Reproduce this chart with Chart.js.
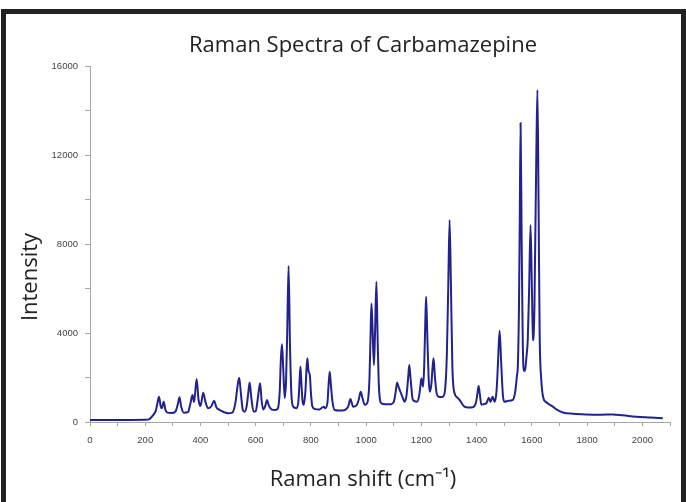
<!DOCTYPE html>
<html>
<head>
<meta charset="utf-8">
<script src="https://cdn.jsdelivr.net/npm/chart.js@4.4.1/dist/chart.umd.min.js"></script>
<style>
  html, body { margin: 0; padding: 0; background: #fff; }
  #wrap { position: relative; width: 686px; height: 502px; overflow: hidden; }
  #frame {
    position: absolute; left: 1px; top: 9px; right: 0; bottom: -20px;
    border: 5px solid #222; border-bottom: none;
  }
  #chart { position: absolute; left: 0; top: 0; }
  .ttl {
    position: absolute; left: 263px; width: 200px; text-align: center;
    white-space: nowrap; font-family: 'Open Sans', sans-serif; font-size: 22px;
    line-height: 26px; color: #222;
  }
  .ttl span { display: inline-block; margin: 0 -200px; }
  #ytitle { left: -72px; top: 264px; transform: rotate(-90deg); }
</style>
</head>
<body>
<div id="wrap">
  <div id="frame"></div>
  <canvas id="chart" width="686" height="502"></canvas>
  <div class="ttl" style="top:30px"><span>Raman Spectra of Carbamazepine</span></div>
  <div class="ttl" style="top:464px"><span>Raman shift (cm⁻¹)</span></div>
  <div class="ttl" id="ytitle"><span>Intensity</span></div>
</div>
<script>
// Raman shift (cm-1) and intensity
const shift = [
  0, 50, 100, 150, 200, 215, 228, 238, 245, 250, 256, 260, 267, 273, 280, 295,
  310, 318, 324, 330, 340, 355, 363, 371, 377, 386, 393, 400, 410, 418, 428, 440,
  449, 458, 470, 482, 490, 500, 515, 527, 534, 540, 547, 553, 560, 567, 573, 578,
  584, 592, 600, 606, 611, 616, 621, 627, 634, 641, 647, 657, 670, 680, 687, 691,
  695, 700, 705, 710, 714, 719, 724, 729, 735, 748, 755, 759, 762, 766, 770, 774,
  780, 784, 787, 791, 796, 800, 805, 815, 830, 846, 852, 860, 864, 868, 872, 878,
  886, 900, 920, 935, 943, 948, 952, 965, 973, 980, 986, 995, 1005, 1012, 1016, 1019,
  1023, 1028, 1032, 1037, 1041, 1046, 1055, 1070, 1090, 1100, 1106, 1112, 1118, 1124, 1132, 1139,
  1146, 1152, 1156, 1161, 1169, 1184, 1192, 1197, 1200, 1206, 1210, 1214, 1217, 1221, 1226, 1230,
  1236, 1240, 1244, 1249, 1255, 1262, 1270, 1278, 1286, 1292, 1297, 1302, 1307, 1312, 1320, 1330,
  1338, 1348, 1356, 1370, 1386, 1397, 1403, 1407, 1411, 1417, 1425, 1435, 1444, 1450, 1458, 1465,
  1472, 1477, 1483, 1489, 1495, 1501, 1515, 1531, 1540, 1546, 1549, 1553, 1556, 1559, 1563, 1567,
  1571, 1575, 1580, 1585, 1590, 1595, 1600, 1604, 1607, 1611, 1616, 1620, 1624, 1628, 1634, 1641,
  1650, 1662, 1676, 1690, 1712, 1750, 1797, 1850, 1893, 1930, 1977, 2030, 2074
];
const intensity = [
  90, 90, 95, 95, 100, 130, 300, 500, 900, 1140, 700, 620, 910, 550, 420, 400,
  480, 800, 1110, 700, 420, 450, 800, 1210, 900, 1930, 1000, 720, 1320, 900, 620, 720,
  960, 650, 540, 460, 420, 390, 420, 900, 1600, 1990, 1200, 550, 460, 700, 1300, 1780,
  1100, 470, 480, 900, 1400, 1740, 1000, 560, 700, 990, 760, 570, 540, 600, 1400, 2800,
  3490, 2300, 1080, 1900, 4000, 7010, 3500, 1300, 700, 620, 1000, 1900, 2490, 1600, 900, 770,
  1400, 2400, 2860, 2300, 2110, 1300, 700, 580, 560, 690, 620, 900, 1700, 2260, 1700, 900,
  540, 520, 530, 700, 1030, 850, 690, 750, 1000, 1360, 1100, 770, 900, 2000, 4000, 5330,
  4200, 2560, 4000, 6300, 4000, 1600, 840, 800, 800, 900, 1300, 1770, 1550, 1360, 1100, 910,
  1200, 2000, 2560, 1900, 990, 910, 1200, 1700, 1960, 1590, 2500, 4500, 5630, 4000, 2000, 1360,
  1700, 2400, 2860, 2000, 1300, 1140, 1120, 1140, 1500, 3000, 6000, 9080, 6000, 2500, 1290, 1100,
  990, 800, 690, 650, 660, 850, 1300, 1620, 1300, 780, 800, 840, 1090, 900, 1140, 910,
  1400, 2600, 4100, 2600, 1200, 910, 950, 990, 1400, 2100, 2490, 5000, 9000, 13440, 8000, 3500,
  2300, 2310, 2900, 3700, 6000, 8850, 6000, 3700, 3690, 7000, 12000, 14920, 10000, 4000, 1890, 1100,
  910, 800, 690, 560, 430, 370, 340, 330, 340, 300, 240, 200, 165
];

const xTickLabels = [0, 200, 400, 600, 800, 1000, 1200, 1400, 1600, 1800, 2000];
const yTickLabels = [0, 4000, 8000, 12000, 16000];

const axisGrey = '#a6a6a6';
const tickFont = { family: 'Liberation Sans', size: 9.5 };

new Chart(document.getElementById('chart'), {
  type: 'line',
  data: {
    datasets: [{
      data: shift.map((x, i) => ({ x: x, y: intensity[i] })),
      borderColor: '#22228f',
      borderWidth: 2,
      pointRadius: 0,
      cubicInterpolationMode: 'monotone',
      fill: false
    }]
  },
  options: {
    responsive: false,
    animation: false,
    layout: { padding: { left: 0, right: 16, top: 66, bottom: 0 } },
    plugins: {
      legend: { display: false },
      tooltip: { enabled: false }
    },
    scales: {
      x: {
        type: 'linear',
        min: 0,
        max: 2100,
        afterFit: s => { s.height = 80; },
        grid: { drawOnChartArea: false, tickLength: 4, color: axisGrey },
        border: { color: axisGrey },
        ticks: {
          stepSize: 100,
          autoSkip: false,
          maxRotation: 0,
          padding: 9,
          color: '#444',
          font: tickFont,
          callback: v => xTickLabels.includes(v) ? v : ''
        }
      },
      y: {
        min: 0,
        max: 16000,
        afterFit: s => { s.width = 90; },
        grid: { drawOnChartArea: false, tickLength: 5, color: axisGrey },
        border: { color: axisGrey },
        ticks: {
          stepSize: 2000,
          padding: 7,
          color: '#444',
          font: tickFont,
          callback: v => yTickLabels.includes(v) ? v : ''
        }
      }
    }
  }
});
</script>
</body>
</html>
